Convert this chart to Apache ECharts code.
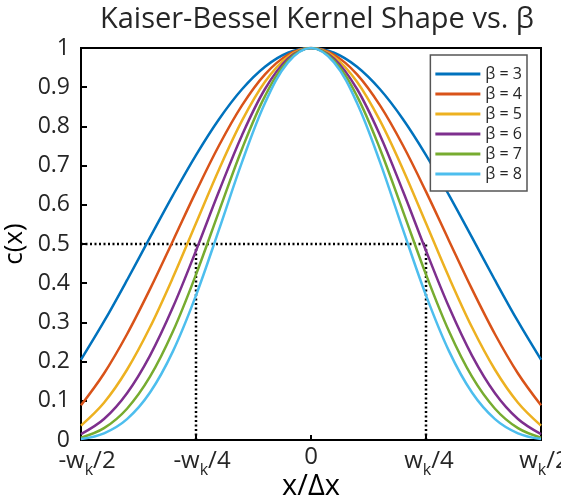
<!DOCTYPE html>
<html>
<head>
<meta charset="utf-8">
<script src="https://cdn.jsdelivr.net/npm/echarts@6/dist/echarts.min.js"></script>
<style>
html,body{margin:0;padding:0;background:#fff;}
#chart{width:561px;height:498px;}
</style>
</head>
<body>
<div id="chart"></div>
<script>
// x positions in units of kernel width w_k
const xPos = [-0.5,-0.45,-0.4,-0.35,-0.3,-0.25,-0.2,-0.15,-0.1,-0.05,0,0.05,0.1,0.15,0.2,0.25,0.3,0.35,0.4,0.45,0.5];
const seriesNames = ['β = 3','β = 4','β = 5','β = 6','β = 7','β = 8'];
const beta3 = [0.2049,0.3023,0.4076,0.5167,0.6247,0.7269,0.8184,0.8947,0.9522,0.9879,1,0.9879,0.9522,0.8947,0.8184,0.7269,0.6247,0.5167,0.4076,0.3023,0.2049];
const beta4 = [0.0885,0.1697,0.2698,0.3848,0.5085,0.6335,0.7512,0.8535,0.9327,0.9828,1,0.9828,0.9327,0.8535,0.7512,0.6335,0.5085,0.3848,0.2698,0.1697,0.0885];
const beta5 = [0.0367,0.0951,0.1792,0.2875,0.4149,0.5529,0.6902,0.8146,0.9138,0.9779,1,0.9779,0.9138,0.8146,0.6902,0.5529,0.4149,0.2875,0.1792,0.0951,0.0367];
const beta6 = [0.0149,0.0535,0.1193,0.2153,0.3390,0.4830,0.6345,0.7776,0.8954,0.9729,1,0.9729,0.8954,0.7776,0.6345,0.4830,0.3390,0.2153,0.1193,0.0535,0.0149];
const beta7 = [0.0059,0.0302,0.0798,0.1614,0.2772,0.4221,0.5834,0.7425,0.8774,0.9681,1,0.9681,0.8774,0.7425,0.5834,0.4221,0.2772,0.1614,0.0798,0.0302,0.0059];
const beta8 = [0.0023,0.0171,0.0533,0.1211,0.2268,0.3690,0.5366,0.7089,0.8598,0.9632,1,0.9632,0.8598,0.7089,0.5366,0.3690,0.2268,0.1211,0.0533,0.0171,0.0023];
const colors = ['#0072BD','#D95319','#EDB120','#7E2F8E','#77AC30','#4DBEEE'];
// x tick labels (value -> label)
const xTickValues = [-0.5,-0.25,0,0.25,0.5];
const xTickLabels = ['{n| }-w{s|k}/2','{n| }-w{s|k}/4','0','{p| }w{s|k}/4','{p| }w{s|k}/2'];
// reference (half-max) guide lines
const guideH = [[-0.5,0.5],[0.25,0.5]];
const guideL = [[-0.25,0],[-0.25,0.5]];
const guideR = [[0.25,0],[0.25,0.5]];

const FONT = 'Open Sans';
const allBetas = [beta3,beta4,beta5,beta6,beta7,beta8];

const chart = echarts.init(document.getElementById('chart'), null, {renderer:'canvas'});
const curveSeries = allBetas.map((arr,i)=>({
  name: seriesNames[i], type:'line', smooth:0.35, symbol:'none',
  data: xPos.map((x,j)=>[x,arr[j]]),
  lineStyle:{color:colors[i], width:2.5}, itemStyle:{color:colors[i]},
  z: 3
}));
const guideSeries = [guideH,guideL,guideR].map(d=>({
  type:'line', symbol:'none', data:d, silent:true,
  lineStyle:{color:'#000', width:2.5, type:[2,2.5]}, z:2
}));

chart.setOption({
  animation:false,
  color: colors,
  title:{
    text:'Kaiser-Bessel Kernel Shape vs. β', left:312, textAlign:'center', top:0,
    textStyle:{fontFamily:FONT, fontSize:29, fontWeight:'normal', color:'#262626'}
  },
  legend:{
    data: seriesNames, orient:'vertical', right:34, top:55,
    icon:'rect', itemWidth:45, itemHeight:3, itemGap:4,
    padding:[11,5,9,5], backgroundColor:'#fff', borderColor:'#555', borderWidth:1.5, borderRadius:0,
    textStyle:{fontFamily:FONT, fontSize:16, color:'#262626', lineHeight:16}
  },
  grid:{left:81, right:20, top:48, bottom:58, show:true, borderColor:'#000', borderWidth:2,
        containLabel:false, outerBoundsMode:'none'},
  xAxis:{
    type:'value', min:-0.5, max:0.5, interval:0.25,
    name:'x/Δx', nameLocation:'middle', nameGap:32, nameMoveOverlap:false,
    nameTextStyle:{fontFamily:FONT, fontSize:29, color:'#000'},
    axisLine:{show:true, onZero:false, lineStyle:{color:'#000', width:2}},
    axisTick:{show:true, inside:true, length:5, lineStyle:{color:'#000', width:2}},
    splitLine:{show:false},
    axisLabel:{
      margin:5, showMinLabel:true, showMaxLabel:true, hideOverlap:false,
      fontFamily:FONT, fontSize:24, color:'#262626',
      formatter:(v)=>{ const k = xTickValues.findIndex(t=>Math.abs(t-v)<1e-9); return k>=0?xTickLabels[k]:''; },
      rich:{
        s:{fontFamily:FONT, fontSize:16, color:'#262626', padding:[17,0,0,0]},
        n:{fontFamily:FONT, fontSize:24, width:12},
        p:{fontFamily:FONT, fontSize:24, width:6}
      }
    }
  },
  yAxis:{
    type:'value', min:0, max:1, interval:0.1,
    name:'c(x)', nameLocation:'middle', nameGap:53, nameMoveOverlap:false,
    nameTextStyle:{fontFamily:FONT, fontSize:26, color:'#000'},
    axisLine:{show:true, onZero:false, lineStyle:{color:'#000', width:2}},
    axisTick:{show:true, inside:true, length:6, lineStyle:{color:'#000', width:2}},
    splitLine:{show:false},
    axisLabel:{
      margin:11, fontFamily:FONT, fontSize:23, color:'#262626',
      formatter:(v)=> (Math.abs(v)<1e-9?'0':(Math.abs(v-1)<1e-9?'1':v.toFixed(1)))
    }
  },
  series: guideSeries.concat(curveSeries)
});
</script>
</body>
</html>
